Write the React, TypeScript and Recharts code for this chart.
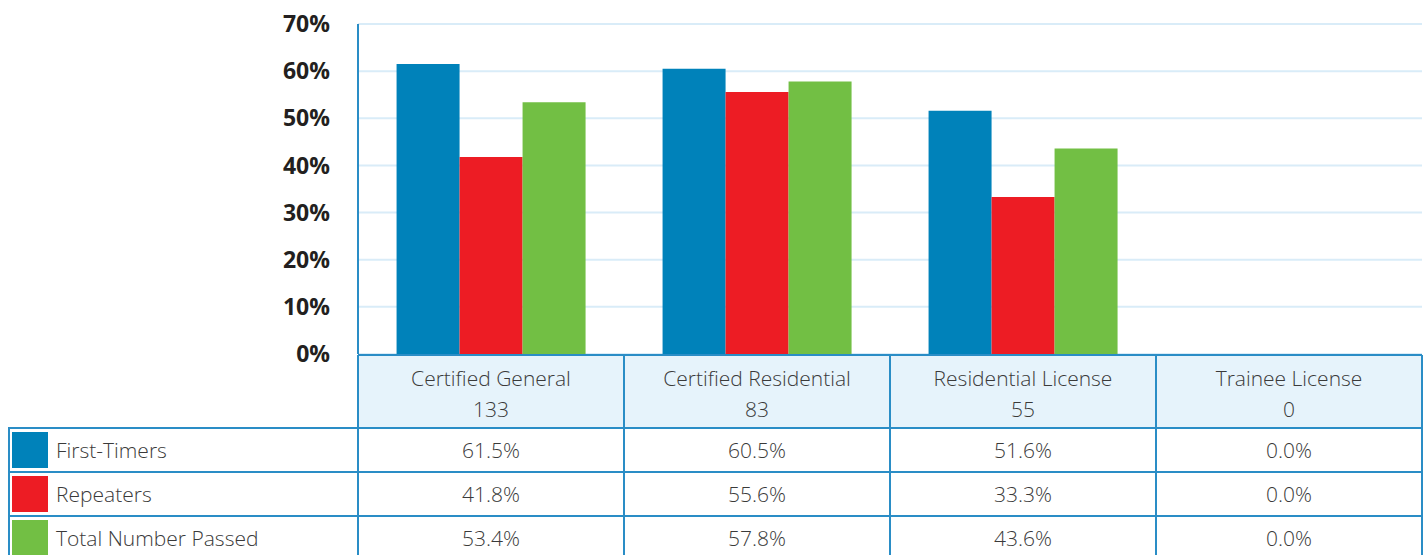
import { Bar, BarChart, CartesianGrid, XAxis, YAxis } from "recharts"

// exam pass rates by license type
const categories = ["Certified General", "Certified Residential", "Residential License", "Trainee License"]
const candidates = [133, 83, 55, 0]
const firstTimers = [61.5, 60.5, 51.6, 0]
const repeaters = [41.8, 55.6, 33.3, 0]
const totalPassed = [53.4, 57.8, 43.6, 0]
const yTicks = [0, 10, 20, 30, 40, 50, 60, 70]

const series = [
  { key: "firstTimers", name: "First-Timers", color: "#0082ba", values: firstTimers },
  { key: "repeaters", name: "Repeaters", color: "#ed1c24", values: repeaters },
  { key: "totalPassed", name: "Total Number Passed", color: "#72bf44", values: totalPassed },
]

const data = categories.map((name, i) => ({
  name,
  count: candidates[i],
  firstTimers: firstTimers[i],
  repeaters: repeaters[i],
  totalPassed: totalPassed[i],
}))

const W = 1424
const H = 555
const PLOT_LEFT = 358
const PLOT_RIGHT = 1422
const PLOT_TOP = 24
const TABLE_TOP = 355
const HEADER_BOTTOM = 428
const ROW_H = 44
const BORDER = "#2a8dc6"
const FONT = "'Open Sans', 'Liberation Sans', sans-serif"
const TEXT = "#3a3a3a"

const band = (PLOT_RIGHT - PLOT_LEFT) / categories.length

function TableColumn(props: any) {
  const { x, payload } = props
  const i = payload.index
  const left = x - band / 2
  return (
    <g>
      <rect x={left} y={TABLE_TOP} width={band} height={HEADER_BOTTOM - TABLE_TOP} fill="#e6f3fb" />
      <text x={x} y={378} textAnchor="middle" dominantBaseline="central" fontSize={21} fontWeight={300} fill={TEXT} fontFamily={FONT}>
        {categories[i]}
      </text>
      <text x={x} y={409} textAnchor="middle" dominantBaseline="central" fontSize={21} fontWeight={300} fill={TEXT} fontFamily={FONT}>
        {candidates[i]}
      </text>
      {series.map((s, r) => (
        <text
          key={s.key}
          x={x}
          y={HEADER_BOTTOM + ROW_H * r + ROW_H / 2}
          textAnchor="middle"
          dominantBaseline="central"
          fontSize={21}
          fontWeight={300}
          fill={TEXT}
          fontFamily={FONT}
        >
          {s.values[i].toFixed(1)}%
        </text>
      ))}
      {[TABLE_TOP, HEADER_BOTTOM, HEADER_BOTTOM + ROW_H, HEADER_BOTTOM + ROW_H * 2].map((ly) => (
        <line key={ly} x1={left} x2={left + band} y1={ly} y2={ly} stroke={BORDER} strokeWidth={2} />
      ))}
      <line x1={left} x2={left} y1={TABLE_TOP} y2={H} stroke={BORDER} strokeWidth={2} />
      <line x1={left + band} x2={left + band} y1={TABLE_TOP} y2={H} stroke={BORDER} strokeWidth={2} />
    </g>
  )
}

export default function App() {
  return (
    <div style={{ position: "absolute", left: 0, top: 0, width: W, height: H, background: "#fff", overflow: "hidden" }}>
      <BarChart
        width={W}
        height={H}
        data={data}
        margin={{ top: PLOT_TOP, right: W - PLOT_RIGHT, bottom: 0, left: 0 }}
        barCategoryGap="14.5%"
        barGap={0}
      >
        <CartesianGrid vertical={false} stroke="#d9ecf8" strokeWidth={2} />
        <YAxis
          width={PLOT_LEFT}
          domain={[0, 70]}
          ticks={yTicks}
          tickFormatter={(v: number) => `${v}%`}
          axisLine={{ stroke: BORDER, strokeWidth: 2 }}
          tickLine={false}
          tickSize={0}
          tickMargin={28}
          tick={{ fontSize: 23, fontWeight: 700, fill: "#231f20", fontFamily: FONT }}
        />
        <XAxis
          dataKey="name"
          height={H - PLOT_TOP - (TABLE_TOP - 1 - PLOT_TOP)}
          axisLine={false}
          tickLine={false}
          interval={0}
          tick={<TableColumn />}
        />
        {series.map((s) => (
          <Bar key={s.key} dataKey={s.key} name={s.name} fill={s.color} isAnimationActive={false} />
        ))}
      </BarChart>
      {/* legend column of the data table */}
      {series.map((s, r) => (
        <div
          key={s.key}
          style={{
            position: "absolute",
            left: 8,
            top: HEADER_BOTTOM - 1 + ROW_H * r,
            width: PLOT_LEFT - 8,
            height: ROW_H,
            boxSizing: "border-box",
            borderTop: `2px solid ${BORDER}`,
            borderLeft: `2px solid ${BORDER}`,
            display: "flex",
            alignItems: "center",
          }}
        >
          <div style={{ width: 36, height: 36, marginLeft: 2, background: s.color }} />
          <span style={{ marginLeft: 8, fontFamily: FONT, fontSize: 21, fontWeight: 300, color: TEXT }}>{s.name}</span>
        </div>
      ))}
    </div>
  )
}
